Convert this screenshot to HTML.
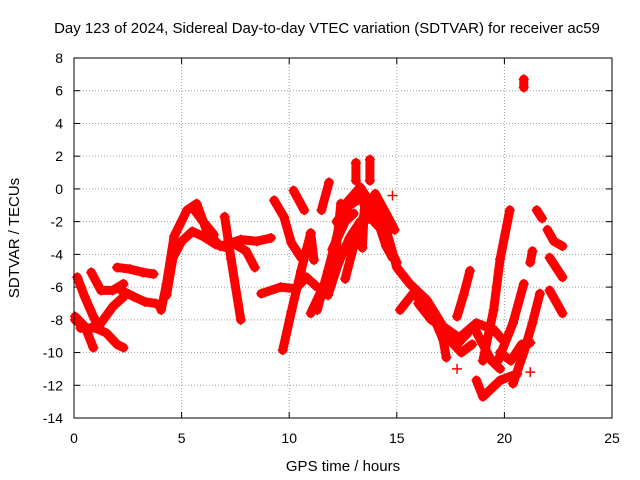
<!DOCTYPE html>
<html><head><meta charset="utf-8"><style>
body{margin:0;background:#fff;}
svg{display:block;font-family:"Liberation Sans",sans-serif;}
</style></head><body>
<svg id="chart" width="640" height="480">
<text x="327" y="33" font-size="15" text-anchor="middle">Day 123 of 2024, Sidereal Day-to-day VTEC variation (SDTVAR) for receiver ac59</text>
<text x="343" y="471" font-size="15" text-anchor="middle">GPS time / hours</text>
<text x="0" y="0" font-size="15" text-anchor="middle" transform="translate(19,238) rotate(-90)">SDTVAR / TECUs</text>
<g id="grid"></g><g id="ticks"></g><g id="series"></g>
<rect x="74" y="58" width="538" height="360" fill="none" stroke="#000" stroke-width="1"/>
</svg>
<script>
const xTicks=[0,5,10,15,20,25];
const yTicks=[8,6,4,2,0,-2,-4,-6,-8,-10,-12,-14];
const arcs=[
[[0.15,-5.4],[0.5,-6.6],[0.9,-7.8],[1.2,-8.6]],
[[0.05,-7.8],[0.5,-8.4],[0.9,-9.7]],
[[0.05,-8],[0.6,-8.6],[1.25,-8.2],[1.8,-7.2],[2.3,-6.6]],
[[0.3,-8.5],[1,-8.5],[1.5,-8.8],[2,-9.5],[2.3,-9.7]],
[[0.8,-5.1],[1.25,-6.2],[1.8,-6.2],[2.3,-5.8]],
[[2,-4.8],[2.6,-4.9],[3.2,-5.1],[3.7,-5.2]],
[[2.2,-6.2],[2.8,-6.6],[3.3,-6.9],[3.8,-7],[4.05,-7.2]],
[[4.05,-7.4],[4.3,-5.8],[4.65,-2.9],[5.25,-1.3],[5.7,-0.9],[6.2,-2.7],[6.8,-3.5],[7.3,-3.3],[7.75,-3.1],[8.5,-3.2],[9.15,-3]],
[[4.3,-6.5],[4.6,-4.2],[5,-3.2],[5.5,-2.6],[6,-2.9],[6.6,-3.4],[7.1,-3.6]],
[[5.6,-1.3],[6,-2],[6.5,-2.8]],
[[7,-1.7],[7.3,-4.3],[7.75,-8]],
[[7.5,-3.4],[8,-3.8],[8.4,-4.8]],
[[8.7,-6.4],[9.6,-6],[10.3,-6.1],[10.8,-5.4],[11.3,-6]],
[[9.7,-9.85],[10.1,-7.5],[10.55,-5],[11,-2.7]],
[[9.3,-0.7],[9.75,-1.7],[10.1,-3.3],[10.55,-4.2]],
[[10.2,-0.1],[10.7,-1.3]],
[[11.5,-1.3],[11.85,0.4]],
[[11,-2.7],[11.15,-4.35]],
[[11,-7.6],[11.5,-6.2],[12.1,-4.8],[12.4,-0.9]],
[[11.3,-7.4],[11.8,-5],[12.2,-3],[12.5,-1.1],[13.3,0.1],[13.9,-1.1],[14.55,-2.7],[15,-4.8],[15.6,-5.8],[16.4,-6.8],[17.15,-8.4],[17.9,-9.1],[18.7,-8.2],[19.5,-8.6],[19.9,-9.2]],
[[12,-3.7],[12.6,-2],[13,-1.5]],
[[11.8,-6.5],[12.3,-4.5],[12.8,-3],[13.3,-2],[13.8,-1.8],[14.3,-2.5]],
[[12.6,-5.5],[13,-3.5],[13.5,-1.5],[14,-0.3],[14.5,-1.5],[14.9,-2.5]],
[[12.2,-2],[12.8,-1],[13.4,-0.5],[14,-1.5],[14.5,-3.5],[14.8,-4.2]],
[[13.4,-3.6],[13.5,-1]],
[[14.2,-1.3],[14.7,-3.7],[15,-4.5]],
[[13.1,1.6],[13.1,0.5]],
[[13.75,1.8],[13.75,0.5]],
[[15.15,-7.4],[15.75,-6.4],[16.5,-7.2],[17.15,-9.2],[17.3,-10.3]],
[[16,-7],[16.6,-8],[17.2,-8.5],[17.8,-9.5],[18.3,-8.8]],
[[17.8,-7.8],[18.1,-6.5],[18.4,-5]],
[[17.5,-9.3],[18,-10],[18.5,-9.5]],
[[18.6,-8.5],[19,-9.5],[19.4,-10.5],[19.8,-11]],
[[18.7,-11.7],[19,-12.7],[19.8,-11.7],[20.6,-11.3]],
[[19,-10.5],[19.5,-7.4],[19.8,-4.3],[20.25,-1.3]],
[[19.7,-10.5],[20.4,-8.2],[20.9,-5.8]],
[[20.4,-11.9],[20.9,-10],[21.3,-8.2],[21.65,-6.4]],
[[19.8,-10],[20.3,-10.5],[20.8,-9.5],[21.2,-9.4]],
[[21.2,-4.5],[21.3,-3.8]],
[[21.5,-1.3],[21.75,-1.8]],
[[22,-2.5],[22.3,-3.2],[22.7,-3.5]],
[[22.1,-4.2],[22.7,-5.4]],
[[22.1,-6.2],[22.7,-7.6]],
[[20.9,6.2],[20.9,6.7]],
[[17.8,-11]],[[14.8,-0.4]],[[21.2,-11.2]],[[21.2,-9.4]]
];
const X=v=>74+(v-0)*(538/25);
const Y=v=>58+(8-v)*(360/22);
const ns="http://www.w3.org/2000/svg";
const grid=document.getElementById('grid'),tk=document.getElementById('ticks'),sr=document.getElementById('series');
function mk(tag,attrs,parent){const e=document.createElementNS(ns,tag);for(const k in attrs)e.setAttribute(k,attrs[k]);parent.appendChild(e);return e;}
xTicks.forEach(t=>{
 if(t>0&&t<25){const g=mk('line',{x1:X(t),x2:X(t),y1:58,y2:418,stroke:'#a0a0a0','stroke-dasharray':'1,2'},grid);
 
 }
 const l=mk('text',{x:X(t),y:443,'font-size':14,'text-anchor':'middle'},tk);l.textContent=t;
 
 
 mk('line',{x1:X(t),x2:X(t),y1:418,y2:412,stroke:'#000'},tk);
 mk('line',{x1:X(t),x2:X(t),y1:58,y2:64,stroke:'#000'},tk);
});
yTicks.forEach(t=>{
 if(t>-14&&t<8){const g=mk('line',{x1:74,x2:612,y1:Y(t),y2:Y(t),stroke:'#a0a0a0','stroke-dasharray':'1,2'},grid);
 
 }
 const l=mk('text',{x:63,y:Y(t)+5,'font-size':14,'text-anchor':'end'},tk);l.textContent=t;
 
 
 mk('line',{x1:74,x2:80,y1:Y(t),y2:Y(t),stroke:'#000'},tk);
 mk('line',{x1:612,x2:606,y1:Y(t),y2:Y(t),stroke:'#000'},tk);
});
arcs.forEach((a)=>{
 const g=mk('g',{},sr);
 
 
 if(a.length>1){mk('polyline',{points:a.map(p=>X(p[0])+','+Y(p[1])).join(' '),fill:'none',stroke:'#f00','stroke-width':9,'stroke-linejoin':'round','stroke-linecap':'round'},g);}
 a.forEach(p=>{const cx=X(p[0]),cy=Y(p[1]);
  mk('path',{d:`M${cx-5},${cy}H${cx+5}M${cx},${cy-5}V${cy+5}`,stroke:'#f00','stroke-width':1.5},g);});
});
</script>
</body></html>
